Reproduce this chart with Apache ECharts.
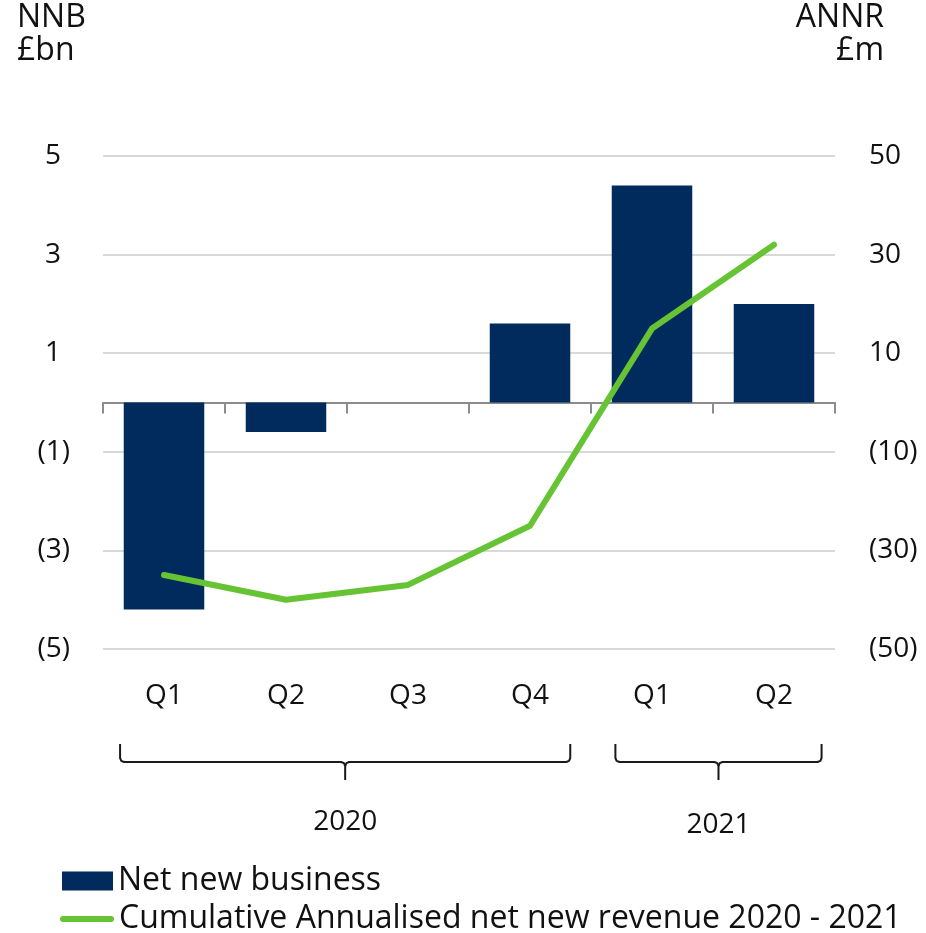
<!DOCTYPE html>
<html>
<head>
<meta charset="utf-8">
<script src="https://cdn.jsdelivr.net/npm/echarts@6/dist/echarts.min.js"></script>
<style>
  html, body { margin: 0; padding: 0; background: #ffffff; }
  #chart { width: 926px; height: 933px; }
</style>
</head>
<body>
<div id="chart"></div>
<script>
// Quarterly categories and the year groups they belong to
const quarters = ['Q1', 'Q2', 'Q3', 'Q4', 'Q1', 'Q2'];
const yearLabels = ['2020', '2021'];
const yearFirstQuarter = [0, 4];
const yearLastQuarter = [3, 5];

// Net new business, £bn (left axis)
const netNewBusiness = [-4.2, -0.6, 0, 1.6, 4.4, 2.0];
// Cumulative annualised net new revenue, £m (right axis)
const cumulativeAnnr = [-35, -40, -37, -25, 15, 32];

// Axis ranges
const nnbMin = -5, nnbMax = 5, nnbStep = 2;
const annrMin = -50, annrMax = 50, annrStep = 20;

const seriesNames = ['Net new business', 'Cumulative Annualised net new revenue 2020 - 2021'];
const leftTitle = 'NNB\n£bn';
const rightTitle = 'ANNR\n£m';

const FONT = '"Open Sans", "Noto Sans", sans-serif';
const INK = '#111111';
const NAVY = '#002B5C';
const GREEN = '#66C333';

const accounting = v => (v < 0 ? '(' + Math.abs(v) + ')' : String(v));

const legendText = { fontFamily: FONT, fontSize: 32, color: INK, lineHeight: 32 };

const chart = echarts.init(document.getElementById('chart'), null, { renderer: 'canvas' });

const option = {
  animation: false,
  backgroundColor: '#ffffff',
  grid: { left: 103, right: 91, top: 156, bottom: 284 },
  xAxis: [
    {
      // zero line with boundary ticks
      type: 'category',
      data: quarters,
      boundaryGap: true,
      axisLine: { onZero: true, lineStyle: { color: '#8c8c8c', width: 2 } },
      axisTick: { show: true, length: 11, lineStyle: { color: '#8c8c8c', width: 2 } },
      axisLabel: { show: false },
      splitLine: { show: false }
    },
    {
      // quarter labels along the bottom edge
      type: 'category',
      data: quarters,
      position: 'bottom',
      boundaryGap: true,
      axisLine: { show: false, onZero: false },
      axisTick: { show: false },
      axisLabel: { margin: 33, fontFamily: FONT, fontSize: 28, color: INK },
      splitLine: { show: false }
    }
  ],
  yAxis: [
    {
      type: 'value',
      position: 'left',
      min: nnbMin, max: nnbMax, interval: nnbStep,
      axisLine: { show: false },
      axisTick: { show: false },
      splitLine: { show: true, lineStyle: { color: '#d9d9d9', width: 2 } },
      axisLabel: {
        margin: 33,
        fontFamily: FONT, fontSize: 28, color: INK,
        formatter: v => (v < 0 ? accounting(v) : '{p|' + v + '}'),
        rich: { p: { fontFamily: FONT, fontSize: 28, color: INK, padding: [0, 9, 0, 0] } }
      }
    },
    {
      type: 'value',
      position: 'right',
      min: annrMin, max: annrMax, interval: annrStep,
      axisLine: { show: false },
      axisTick: { show: false },
      splitLine: { show: false },
      axisLabel: { margin: 34, fontFamily: FONT, fontSize: 28, color: INK, formatter: accounting }
    }
  ],
  legend: [
    {
      left: 62,
      top: 865,
      padding: 0,
      itemWidth: 51,
      itemHeight: 19,
      textStyle: legendText,
      data: [{ name: seriesNames[0], icon: 'rect' }]
    },
    {
      left: 60,
      top: 903,
      padding: 0,
      itemWidth: 54,
      itemHeight: 6,
      textStyle: legendText,
      // short bar with round ends standing in for the line
      data: [{ name: seriesNames[1], icon: 'path://M3,0L51,0A3,3,0,0,1,51,6L3,6A3,3,0,0,1,3,0Z' }]
    }
  ],
  series: [
    {
      name: seriesNames[0],
      type: 'bar',
      xAxisIndex: 0,
      yAxisIndex: 0,
      data: netNewBusiness,
      barCategoryGap: '34%',
      itemStyle: { color: NAVY },
      z: 2
    },
    {
      name: seriesNames[1],
      type: 'line',
      xAxisIndex: 0,
      yAxisIndex: 1,
      data: cumulativeAnnr,
      symbol: 'none',
      lineStyle: { color: GREEN, width: 6, cap: 'round', join: 'round' },
      itemStyle: { color: GREEN },
      z: 3
    }
  ]
};

chart.setOption(option);

// Axis titles and year braces beneath the quarter labels
function drawAnnotations() {
  const cx = i => chart.convertToPixel({ xAxisIndex: 0 }, i);
  const band = cx(1) - cx(0);
  // left / right reach of each brace past its outer category centres, in bands
  const braceReach = [[0.36, 0.33], [0.30, 0.39]];
  const braceTop = 744, braceMid = 762, braceBottom = 780, r = 4;
  const labelY = [822, 825];
  const titleFont = '32px ' + FONT;

  const elements = [
    {
      type: 'text', x: 17, y: 1,
      style: { text: leftTitle, font: titleFont, fill: INK, lineHeight: 33, align: 'left', verticalAlign: 'top' }
    },
    {
      type: 'text', x: 884, y: 1,
      style: { text: rightTitle, font: titleFont, fill: INK, lineHeight: 33, align: 'right', verticalAlign: 'top' }
    }
  ];

  yearLabels.forEach((label, k) => {
    const x0 = cx(yearFirstQuarter[k]) - braceReach[k][0] * band;
    const x1 = cx(yearLastQuarter[k]) + braceReach[k][1] * band;
    const xm = (x0 + x1) / 2;
    const pts = [
      [x0, braceTop], [x0, braceMid - r], [x0 + 1.2, braceMid - 1.2], [x0 + r, braceMid],
      [xm - r, braceMid], [xm - 1.2, braceMid + 1.2], [xm, braceMid + r], [xm, braceBottom]
    ];
    const ptsRight = [
      [xm, braceMid + r], [xm + 1.2, braceMid + 1.2], [xm + r, braceMid],
      [x1 - r, braceMid], [x1 - 1.2, braceMid - 1.2], [x1, braceMid - r], [x1, braceTop]
    ];
    [pts, ptsRight].forEach(p => elements.push({
      type: 'polyline',
      shape: { points: p },
      style: { stroke: '#1a1a1a', lineWidth: 2, fill: null, lineJoin: 'round' }
    }));
    elements.push({
      type: 'text', x: xm, y: labelY[k],
      style: { text: label, font: '28px ' + FONT, fill: INK, align: 'center', verticalAlign: 'middle' }
    });
  });

  chart.setOption({ graphic: { elements } });
}
drawAnnotations();
</script>
</body>
</html>
